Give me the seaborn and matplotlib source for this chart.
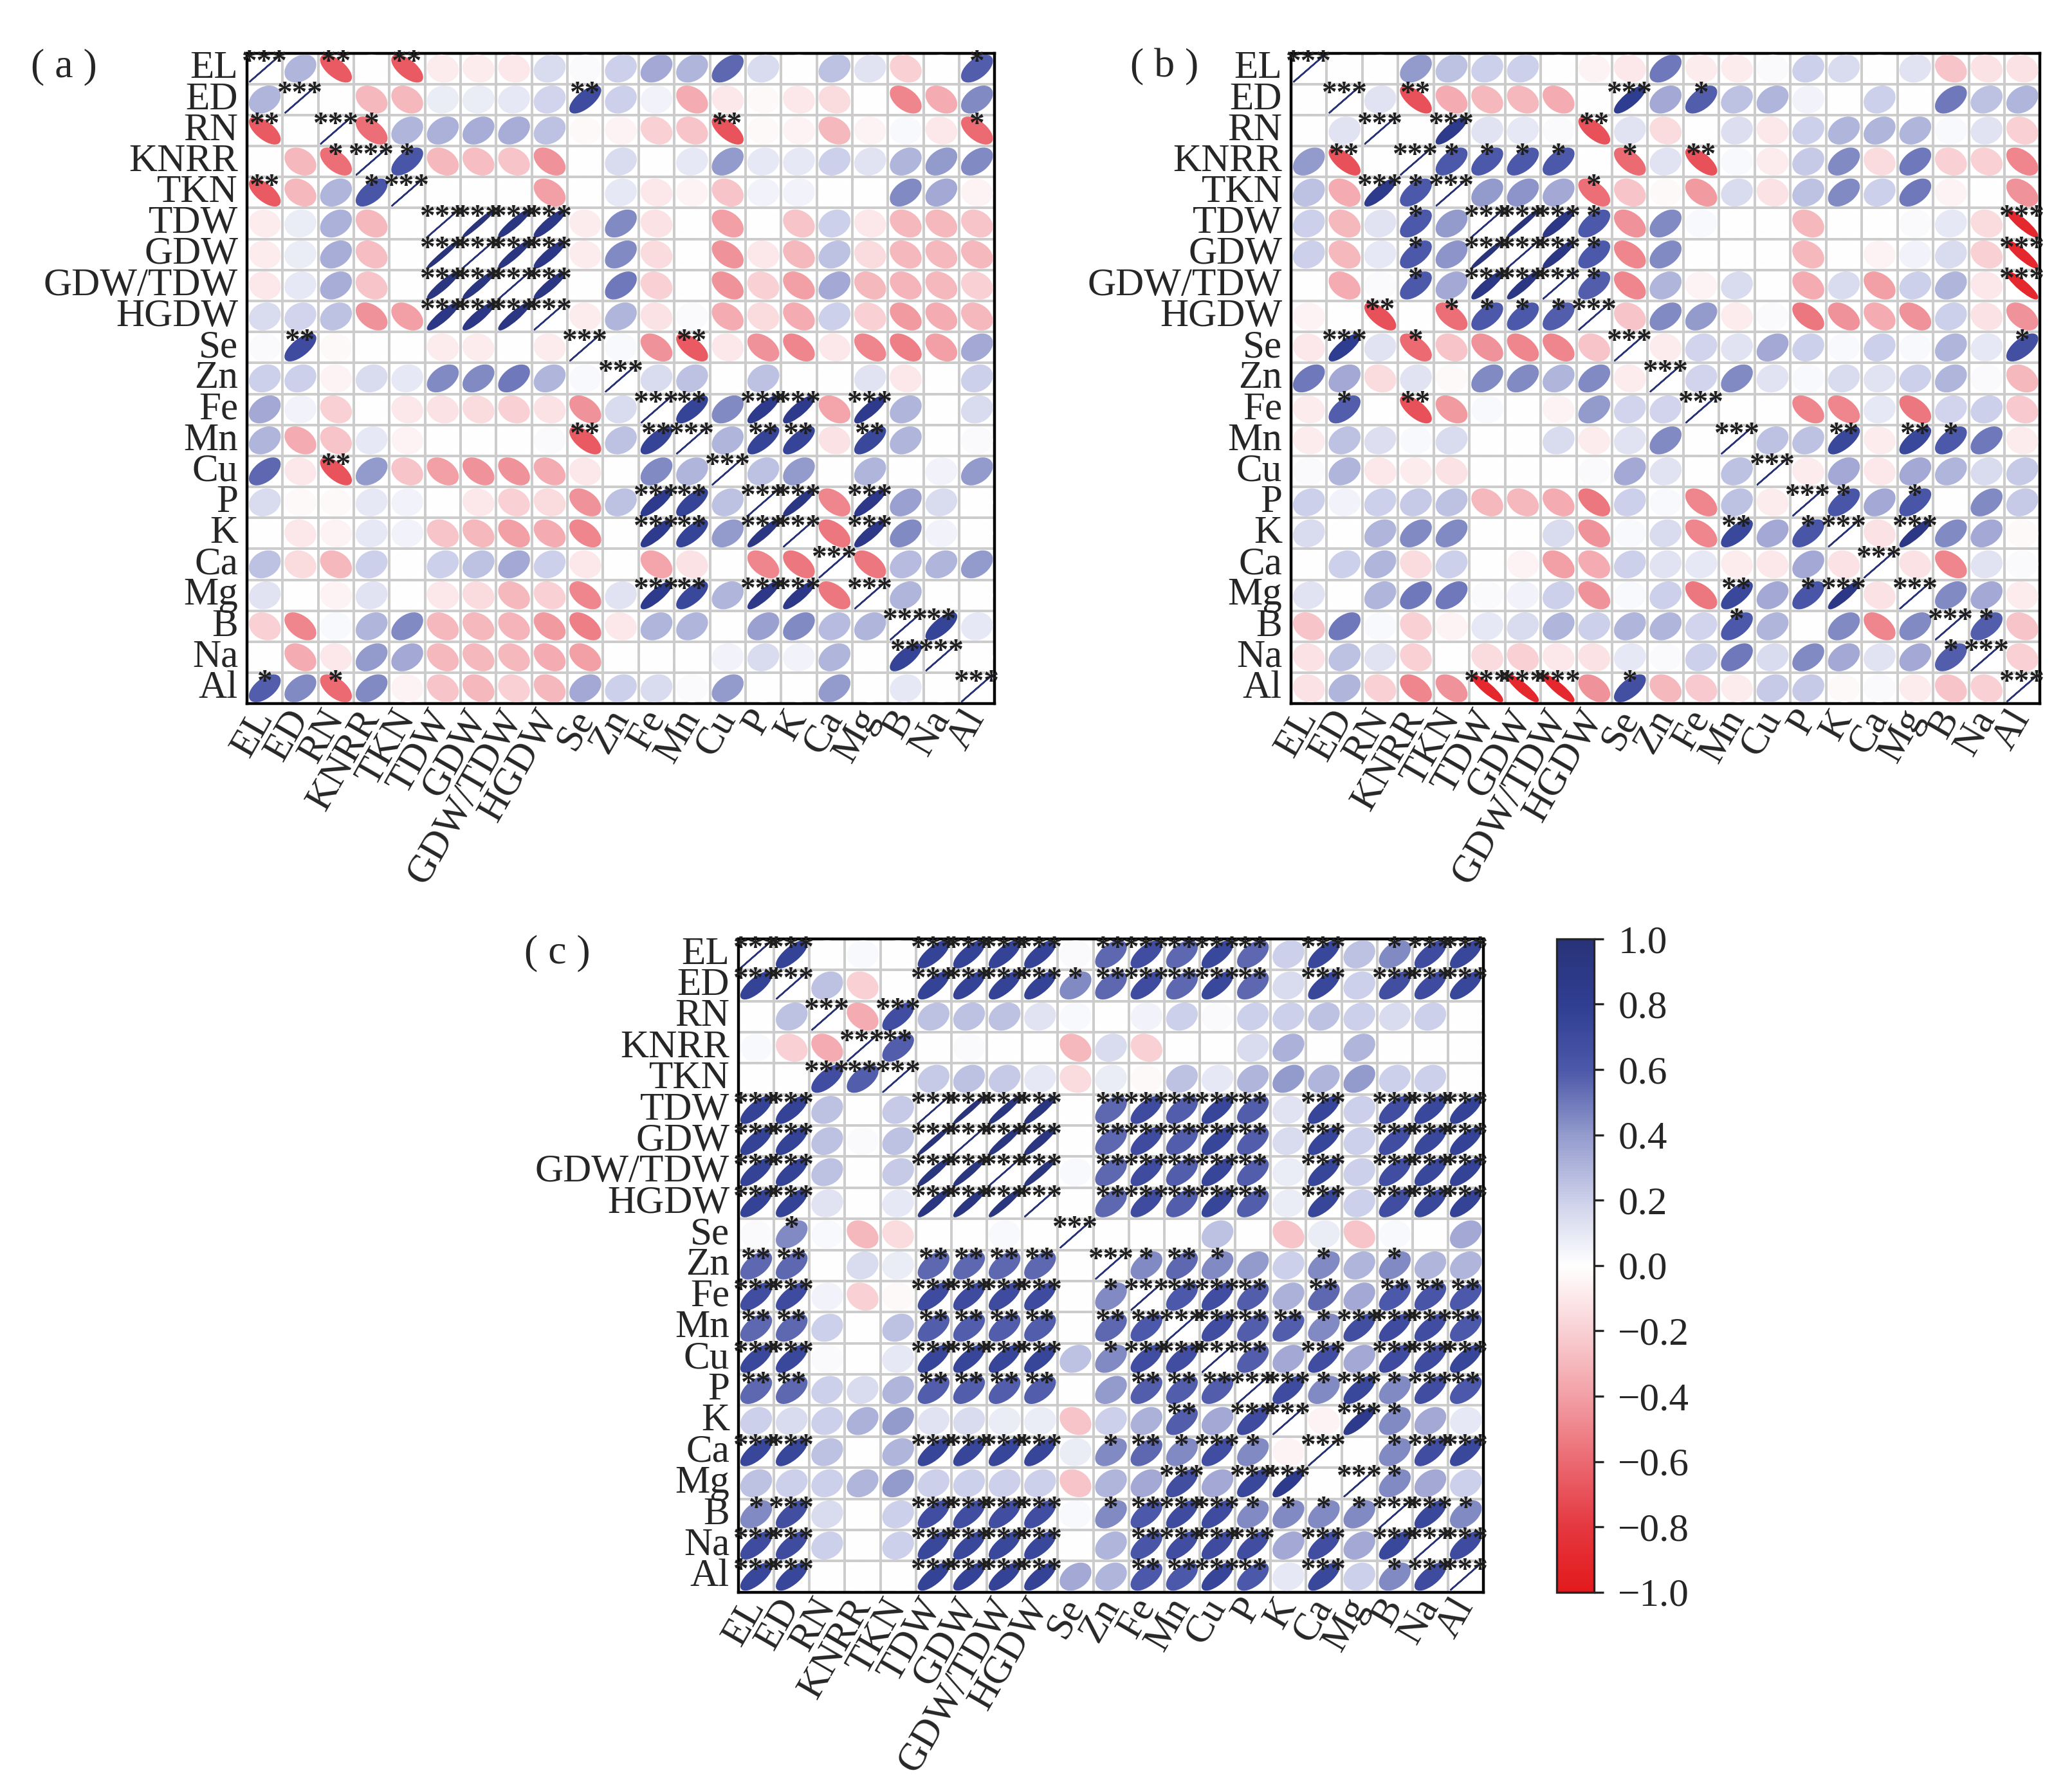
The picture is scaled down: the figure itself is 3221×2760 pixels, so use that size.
import numpy as np
import matplotlib
matplotlib.use("Agg")
import matplotlib.pyplot as plt
import seaborn as sns
from matplotlib.collections import EllipseCollection
from matplotlib.colors import LinearSegmentedColormap, ListedColormap, Normalize
from matplotlib.cm import ScalarMappable

labels = ["EL", "ED", "RN", "KNRR", "TKN", "TDW", "GDW", "GDW/TDW", "HGDW", "Se",
          "Zn", "Fe", "Mn", "Cu", "P", "K", "Ca", "Mg", "B", "Na", "Al"]

# lower triangle of each correlation matrix, row i holds r with columns 0..i-1
corr_a = [
    [],
    [0.30],
    [-0.66, 0.00],
    [0.00, -0.30, -0.58],
    [-0.66, -0.30, 0.30, 0.62],
    [-0.08, 0.08, 0.32, -0.30, 0.00],
    [-0.08, 0.08, 0.33, -0.28, 0.00, 0.98],
    [-0.10, 0.10, 0.33, -0.25, 0.00, 0.93, 0.94],
    [0.15, 0.18, 0.25, -0.45, -0.40, 0.90, 0.90, 0.92],
    [0.02, 0.70, -0.03, 0.00, 0.00, -0.08, -0.08, 0.00, -0.08],
    [0.20, 0.20, -0.05, 0.15, 0.10, 0.45, 0.45, 0.50, 0.30, 0.03],
    [0.35, 0.05, -0.20, 0.00, -0.10, -0.12, -0.15, -0.20, -0.12, -0.45, 0.15],
    [0.30, -0.35, -0.25, 0.10, -0.05, 0.00, 0.00, 0.00, 0.02, -0.66, 0.25, 0.75],
    [0.55, -0.10, -0.68, 0.40, -0.25, -0.40, -0.45, -0.45, -0.35, -0.10, 0.00, 0.45, 0.30],
    [0.15, -0.03, -0.03, 0.10, 0.05, 0.00, -0.10, -0.20, -0.15, -0.45, 0.25, 0.85, 0.75, 0.25],
    [0.00, -0.10, -0.05, 0.10, 0.05, -0.25, -0.30, -0.40, -0.35, -0.50, 0.00, 0.85, 0.75, 0.40, 0.92],
    [0.25, -0.15, -0.30, 0.20, 0.00, 0.20, 0.25, 0.35, 0.20, -0.10, 0.00, -0.38, -0.12, 0.00, -0.50, -0.55],
    [0.12, 0.00, -0.05, 0.12, 0.00, -0.10, -0.15, -0.30, -0.20, -0.50, 0.12, 0.85, 0.72, 0.30, 0.88, 0.88, -0.55],
    [-0.20, -0.50, 0.03, 0.30, 0.45, -0.30, -0.30, -0.32, -0.42, -0.52, -0.10, 0.30, 0.30, 0.00, 0.38, 0.45, 0.28, 0.30],
    [0.00, -0.35, -0.10, 0.40, 0.35, -0.30, -0.30, -0.30, -0.35, -0.40, 0.00, 0.00, 0.00, 0.05, 0.15, 0.05, 0.30, 0.00, 0.75],
    [0.58, 0.45, -0.60, 0.45, -0.05, -0.25, -0.30, -0.20, -0.30, 0.35, 0.20, 0.15, 0.02, 0.40, 0.00, 0.00, 0.40, 0.00, 0.10, 0.00],
]

corr_b = [
    [],
    [0.00],
    [0.00, 0.12],
    [0.40, -0.70, 0.00],
    [0.25, -0.35, 0.85, 0.60],
    [0.20, -0.30, 0.12, 0.60, 0.40],
    [0.20, -0.30, 0.10, 0.60, 0.42, 0.98],
    [0.00, -0.35, 0.02, 0.60, 0.35, 0.90, 0.92],
    [-0.05, 0.00, -0.70, 0.00, -0.58, 0.60, 0.60, 0.58],
    [-0.10, 0.82, 0.12, -0.60, -0.25, -0.45, -0.50, -0.50, -0.25],
    [0.50, 0.35, -0.15, 0.12, -0.03, 0.45, 0.45, 0.30, 0.45, -0.08],
    [-0.08, 0.58, 0.00, -0.70, -0.42, 0.03, 0.00, -0.05, 0.40, 0.18, 0.18],
    [-0.08, 0.25, 0.14, 0.03, 0.15, 0.00, 0.00, 0.15, -0.08, 0.12, 0.45, 0.00],
    [0.02, 0.30, -0.10, -0.08, -0.12, 0.00, 0.00, 0.00, 0.02, 0.35, 0.12, 0.00, 0.25],
    [0.20, 0.05, 0.20, 0.22, 0.25, -0.30, -0.30, -0.35, -0.55, 0.20, 0.03, -0.50, 0.25, -0.08],
    [0.15, 0.00, 0.30, 0.45, 0.45, 0.00, 0.00, 0.15, -0.45, 0.03, 0.15, -0.50, 0.72, 0.35, 0.62],
    [0.00, 0.20, 0.30, -0.15, 0.20, 0.00, -0.05, -0.40, -0.35, 0.20, 0.12, 0.10, -0.08, -0.10, 0.35, -0.12],
    [0.12, 0.00, 0.30, 0.50, 0.50, 0.02, 0.05, 0.20, -0.45, 0.03, 0.20, -0.55, 0.72, 0.35, 0.62, 0.90, -0.12],
    [-0.25, 0.50, 0.03, -0.20, -0.05, 0.10, 0.15, 0.30, 0.20, 0.30, 0.30, 0.18, 0.60, 0.30, 0.00, 0.45, -0.50, 0.45],
    [-0.12, 0.25, 0.12, -0.20, 0.00, -0.15, -0.20, -0.10, -0.12, 0.10, 0.02, 0.20, 0.50, 0.15, 0.45, 0.35, 0.12, 0.35, 0.58],
    [-0.12, 0.30, -0.20, -0.50, -0.45, -0.90, -0.90, -0.90, -0.45, 0.66, -0.30, -0.22, -0.08, 0.22, 0.22, -0.03, 0.02, -0.08, -0.25, -0.20],
]

corr_c = [
    [],
    [0.76],
    [0.00, 0.25],
    [0.03, -0.20, -0.35],
    [0.00, 0.00, 0.68, 0.58],
    [0.76, 0.76, 0.25, 0.00, 0.22],
    [0.76, 0.76, 0.25, 0.02, 0.25, 0.98],
    [0.76, 0.76, 0.25, 0.00, 0.22, 0.95, 0.95],
    [0.76, 0.76, 0.12, 0.00, 0.10, 0.93, 0.93, 0.95],
    [0.02, 0.45, 0.03, -0.30, -0.15, 0.00, 0.00, 0.03, 0.00],
    [0.55, 0.55, 0.00, 0.15, 0.08, 0.55, 0.55, 0.55, 0.55, 0.00],
    [0.68, 0.70, 0.05, -0.20, -0.03, 0.70, 0.70, 0.70, 0.70, 0.00, 0.45],
    [0.55, 0.55, 0.20, 0.00, 0.25, 0.58, 0.58, 0.58, 0.58, 0.00, 0.55, 0.60],
    [0.72, 0.72, 0.02, 0.00, 0.10, 0.74, 0.74, 0.74, 0.74, 0.25, 0.45, 0.68, 0.68],
    [0.55, 0.55, 0.20, 0.15, 0.30, 0.58, 0.58, 0.58, 0.58, 0.00, 0.40, 0.58, 0.58, 0.58],
    [0.20, 0.15, 0.20, 0.32, 0.40, 0.12, 0.15, 0.08, 0.08, -0.25, 0.20, 0.32, 0.58, 0.35, 0.70],
    [0.73, 0.73, 0.25, 0.00, 0.30, 0.74, 0.74, 0.74, 0.74, 0.08, 0.45, 0.55, 0.45, 0.68, 0.45, -0.05],
    [0.25, 0.20, 0.20, 0.30, 0.40, 0.20, 0.20, 0.20, 0.20, -0.25, 0.30, 0.35, 0.67, 0.35, 0.72, 0.85, 0.00],
    [0.45, 0.67, 0.15, 0.00, 0.20, 0.68, 0.68, 0.68, 0.68, 0.03, 0.45, 0.60, 0.70, 0.70, 0.45, 0.45, 0.45, 0.45],
    [0.70, 0.70, 0.20, 0.00, 0.20, 0.72, 0.72, 0.72, 0.72, 0.00, 0.30, 0.62, 0.68, 0.70, 0.68, 0.35, 0.68, 0.35, 0.72],
    [0.73, 0.73, 0.00, 0.00, 0.00, 0.76, 0.76, 0.76, 0.76, 0.35, 0.30, 0.60, 0.60, 0.74, 0.60, 0.10, 0.72, 0.20, 0.45, 0.70],
]

# |r| cut-offs for *, **, *** (sample sizes differ between panels)
cuts_a = [0.57, 0.64, 0.80]
cuts_b = [0.57, 0.68, 0.80]
cuts_c = [0.42, 0.52, 0.665]

cbar_ticks = [-1.0, -0.8, -0.6, -0.4, -0.2, 0.0, 0.2, 0.4, 0.6, 0.8, 1.0]

sns.set_style("white")
plt.rcParams["font.family"] = ["Liberation Serif", "DejaVu Serif"]

cmap = LinearSegmentedColormap.from_list("corr", [
    (0.0, "#E31A1C"), (0.1, "#E53840"), (0.2, "#EC6A72"), (0.3, "#F2A0A6"),
    (0.4, "#F9D0D4"), (0.5, "#FFFFFF"), (0.6, "#CDD0EA"), (0.7, "#949BCD"),
    (0.8, "#4C58A9"), (0.9, "#303E93"), (1.0, "#283378"),
])


def full_matrix(rows):
    n = len(labels)
    m = np.eye(n)
    for i, row in enumerate(rows):
        m[i, :i] = row
        m[:i, i] = row
    return m


def draw_panel(ax, rows, cuts):
    n = len(labels)
    m = full_matrix(rows)
    sns.heatmap(np.zeros((n, n)), cmap=ListedColormap(["white"]), cbar=False,
                linewidths=0.8, linecolor="#cccccc",
                xticklabels=labels, yticklabels=labels, ax=ax)

    # corrplot style ellipses: semi-axes proportional to sqrt(1 +/- r)
    yy, xx = np.mgrid[0:n, 0:n]
    r = m.ravel()
    s = 0.425
    widths = 2 * s * np.sqrt(1 + r)
    heights = 2 * s * np.sqrt(np.clip(1 - r, 0, None))
    colors = cmap((r + 1) / 2)
    ells = EllipseCollection(widths, heights, np.full(r.size, -45.0), units="xy",
                             offsets=np.column_stack([xx.ravel() + 0.5, yy.ravel() + 0.5]),
                             offset_transform=ax.transData,
                             facecolors=colors, edgecolors=colors, linewidths=0.9, zorder=3)
    ax.add_collection(ells)

    # significance stars
    for i in range(n):
        for j in range(n):
            k = sum(abs(m[i, j]) >= c for c in cuts)
            if k:
                ax.text(j + 0.48, i + 0.33, "*" * k, ha="center", va="center",
                        fontsize=17, fontweight="bold", color="#1e1e1e", zorder=4)

    for sp in ax.spines.values():
        sp.set_visible(True)
        sp.set_linewidth(1.6)
        sp.set_color("black")
    ax.tick_params(length=0, labelsize=22, pad=5)
    for t in ax.get_yticklabels():
        t.set_rotation(0)
    for t in ax.get_xticklabels():
        t.set_rotation(60)
        t.set_ha("right")
        t.set_va("center")
        t.set_rotation_mode("anchor")


fig = plt.figure(figsize=(16.105, 13.8), dpi=200)
fig.patch.set_facecolor("white")

ax_a = fig.add_axes([0.1192, 0.6035, 0.3609, 0.3666])
ax_b = fig.add_axes([0.6231, 0.6035, 0.3615, 0.3666])
ax_c = fig.add_axes([0.3564, 0.1030, 0.3596, 0.3681])
draw_panel(ax_a, corr_a, cuts_a)
draw_panel(ax_b, corr_b, cuts_b)
draw_panel(ax_c, corr_c, cuts_c)

fig.text(0.031, 0.962, "( a )", fontsize=23, ha="center", va="center")
fig.text(0.562, 0.962, "( b )", fontsize=23, ha="center", va="center")
fig.text(0.269, 0.463, "( c )", fontsize=23, ha="center", va="center")

cax = fig.add_axes([0.7513, 0.1030, 0.0180, 0.3681])
cb = fig.colorbar(ScalarMappable(norm=Normalize(-1, 1), cmap=cmap), cax=cax, ticks=cbar_ticks)
cb.ax.set_yticklabels([f"{v:.1f}".replace("-", "\u2212") for v in cbar_ticks])
cb.ax.tick_params(labelsize=22, length=5.5, width=1.2, pad=8, direction="out")
cb.outline.set_linewidth(1.2)

fig.savefig("out.png", dpi=200)
